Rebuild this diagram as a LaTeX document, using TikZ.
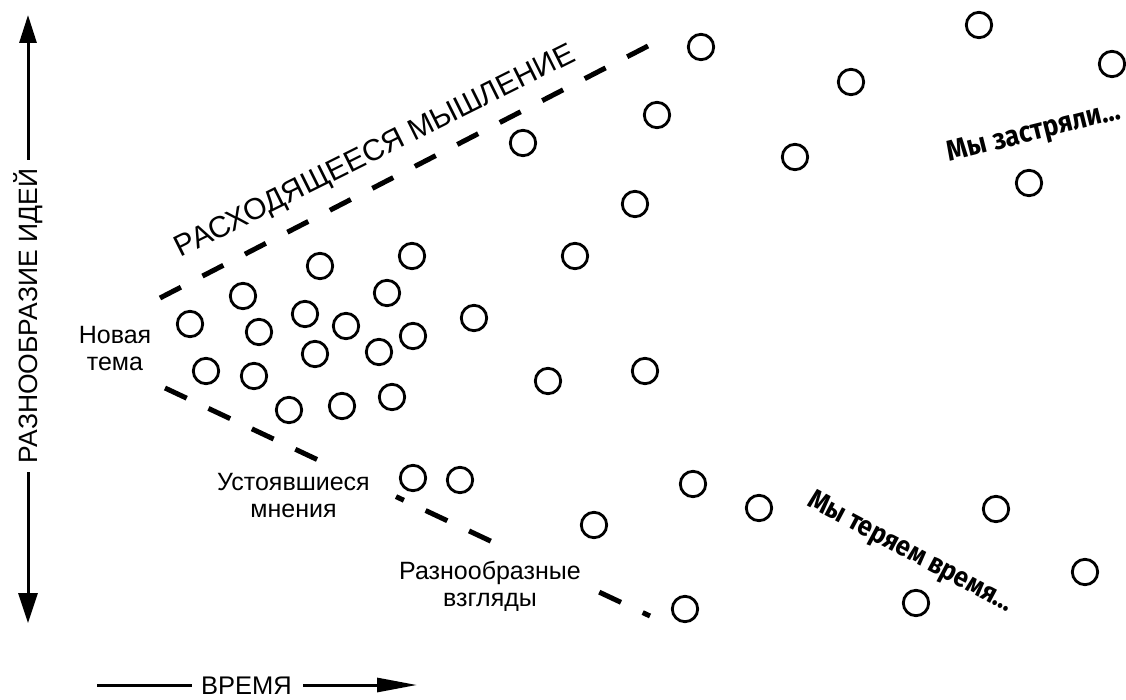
\documentclass[tikz,border=0pt]{standalone}
\usepackage{fontspec}
\setmainfont{Liberation Sans}
\newfontfamily\boldfont{Fira Sans}[FakeStretch=0.9]
\usetikzlibrary{arrows.meta,calc}
\begin{document}
\begin{tikzpicture}[x=1pt,y=-1pt,
  idea/.style={circle,draw=black,line width=2.8pt,minimum size=25.4pt,inner sep=0pt},
  boundup/.style={line width=5pt,dash pattern=on 23.5pt off 24.3pt},
  boundlo/.style={line width=5pt,dash pattern=on 24pt off 24pt},
  axisline/.style={line width=3pt},
  lbl/.style={font=\fontsize{25}{27}\selectfont,inner sep=0pt,align=center},
  big/.style={font=\fontsize{30}{32}\selectfont,inner sep=0pt},
  remark/.style={font=\boldfont\bfseries\fontsize{29}{31}\selectfont,inner sep=0pt}
]
\fill[white] (0,0) rectangle (1126,700);
\useasboundingbox (0,0) rectangle (1126,700);

% axes
\coordinate (ytip) at (28,15);
\coordinate (ya) at (28,160);
\coordinate (yb) at (28,472);
\coordinate (ybot) at (28,623);
\node[lbl,font=\fontsize{26.5}{28}\selectfont,rotate=90,anchor=base] (ylab) at (37.5,316) {РАЗНООБРАЗИЕ ИДЕЙ};
\draw[axisline,-{Triangle[length=28pt,width=17pt]}] (ya) -- (ytip);
\draw[axisline,-{Triangle[length=30pt,width=19pt]}] (yb) -- (ybot);

\coordinate (xa) at (97,685);
\coordinate (xb) at (192,685);
\coordinate (xc) at (303,685);
\coordinate (xtip) at (417,685);
\node[lbl,font=\fontsize{25.5}{27}\selectfont,anchor=base] (xlab) at (246.5,694.5) {ВРЕМЯ};
\draw[axisline] (xa) -- (xb);
\draw[axisline,-{Triangle[length=40pt,width=14pt]}] (xc) -- (xtip);

% dashed boundaries
\coordinate (ups) at (160,298);
\coordinate (upe) at (648,46);
\coordinate (los) at (165,388);
\coordinate (loe) at (650,616);
\draw[boundup] (ups) -- (upe);
\draw[boundlo] (los) -- ($(los)!0.3196!(loe)$);
\draw[boundlo,dash phase=15.3pt] ($(los)!0.4763!(loe)$) -- ($(los)!0.6804!(loe)$);
\draw[boundlo,dash phase=43.3pt] ($(los)!0.8866!(loe)$) -- (loe);

% labels
\node[big,rotate=26.5,anchor=base] (divergent) at (379,159) {РАСХОДЯЩЕЕСЯ МЫШЛЕНИЕ};
\node[lbl,anchor=base] (newtopic) at (115,370) {Новая\\тема};
\node[lbl,anchor=base] (settled) at (293.5,517) {Устоявшиеся\\мнения};
\node[lbl,anchor=base] (diverse) at (490,606) {Разнообразные\\взгляды};
\node[remark,rotate=14,anchor=base] (stuck) at (1036,140) {Мы застряли…};
\node[remark,font=\boldfont\bfseries\fontsize{28}{30}\selectfont,rotate=-28,anchor=base] (losing) at (907,559) {Мы теряем время…};

% ideas
\node[idea] (c1) at (701,47) {};
\node[idea] (c2) at (979,25) {};
\node[idea] (c3) at (1112,64) {};
\node[idea] (c4) at (851,82) {};
\node[idea] (c5) at (657,115) {};
\node[idea] (c6) at (523,143) {};
\node[idea] (c7) at (795,157) {};
\node[idea] (c8) at (1029,183) {};
\node[idea] (c9) at (635,204) {};
\node[idea] (c10) at (575,256) {};
\node[idea] (c11) at (412,256) {};
\node[idea] (c12) at (320,266) {};
\node[idea] (c13) at (243,296) {};
\node[idea] (c14) at (387,293) {};
\node[idea] (c15) at (190,324) {};
\node[idea] (c16) at (259,332) {};
\node[idea] (c17) at (305,314) {};
\node[idea] (c18) at (346,326) {};
\node[idea] (c19) at (413,336) {};
\node[idea] (c20) at (474,318) {};
\node[idea] (c21) at (315,354) {};
\node[idea] (c22) at (379,352) {};
\node[idea] (c23) at (206,371) {};
\node[idea] (c24) at (254,376) {};
\node[idea] (c25) at (548,381) {};
\node[idea] (c26) at (645,371) {};
\node[idea] (c27) at (289,410) {};
\node[idea] (c28) at (342,406) {};
\node[idea] (c29) at (392,397) {};
\node[idea] (c30) at (413,478) {};
\node[idea] (c31) at (460,480) {};
\node[idea] (c32) at (693,484) {};
\node[idea] (c33) at (759,508) {};
\node[idea] (c34) at (594,525) {};
\node[idea] (c35) at (996,509) {};
\node[idea] (c36) at (1085,572) {};
\node[idea] (c37) at (916,603) {};
\node[idea] (c38) at (685,609) {};
\end{tikzpicture}
\end{document}
